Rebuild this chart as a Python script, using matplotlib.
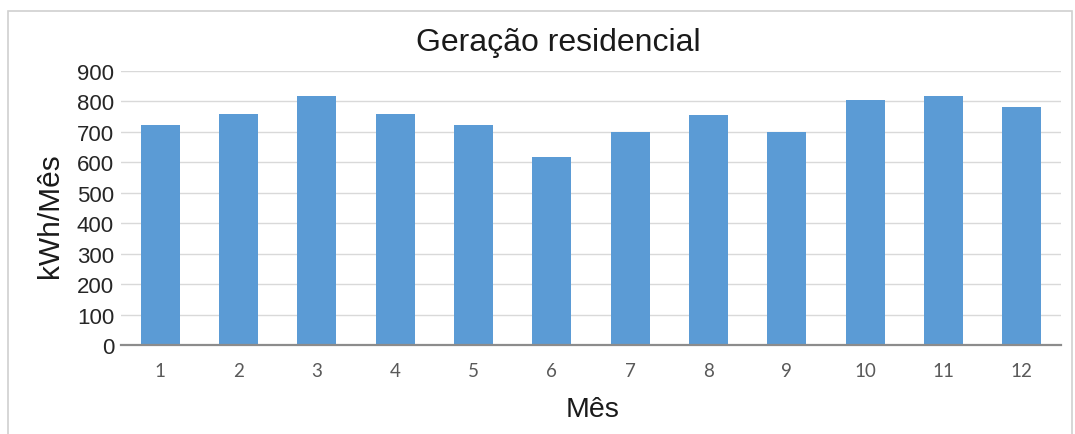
import matplotlib
matplotlib.use('Agg')
import matplotlib.pyplot as plt
from matplotlib.patches import Rectangle

# monthly residential generation (kWh)
meses = [1, 2, 3, 4, 5, 6, 7, 8, 9, 10, 11, 12]
geracao = [722, 758, 819, 757, 722, 616, 699, 754, 701, 803, 818, 783]
y_ticks = [0, 100, 200, 300, 400, 500, 600, 700, 800, 900]

BAR_COLOR = '#5B9BD5'
GRID_COLOR = '#D9D9D9'

plt.rcParams['font.family'] = ['Liberation Sans', 'DejaVu Sans']

fig = plt.figure(figsize=(10.75, 4.35), dpi=100)

# chart border (light gray frame, runs off the bottom)
fig.patches.append(Rectangle((8 / 1075, -0.05), 1064 / 1075, 1.05 - 12 / 435,
                             transform=fig.transFigure, fill=False,
                             edgecolor='#D0D0D0', linewidth=1.2))

ax = fig.add_axes([0.1126, 0.2046, 0.8744, 0.630])
ax.bar(meses, geracao, width=0.5, color=BAR_COLOR, zorder=3)

ax.set_xlim(0.5, 12.5)
ax.set_ylim(0, 900)
ax.set_yticks(y_ticks)
ax.set_xticks(meses)
ax.set_xticklabels([str(m) for m in meses], fontfamily='Lato',
                   fontsize=13.5, color='#595959')
ax.tick_params(axis='y', length=0, pad=5, labelsize=16, labelcolor='#262626')
ax.tick_params(axis='x', length=0, pad=12)

ax.grid(axis='y', color=GRID_COLOR, linewidth=1.0, zorder=0)
for side in ['top', 'right', 'left']:
    ax.spines[side].set_visible(False)
ax.spines['bottom'].set_color('#8C8C8C')
ax.spines['bottom'].set_linewidth(1.6)
ax.spines['bottom'].set_zorder(4)

fig.text(558 / 1075, 1 - 43 / 435, 'Geração residencial', ha='center',
         va='center', fontsize=23, color='#1A1A1A')
fig.text(50 / 1075, 1 - 216 / 435, 'kWh/Mês', rotation=90, ha='center',
         va='center', fontsize=21.5, color='#1A1A1A')
fig.text(593 / 1075, 1 - 410 / 435, 'Mês', ha='center', va='center',
         fontsize=20.5, color='#1A1A1A')

fig.savefig('out.png', dpi=100)
